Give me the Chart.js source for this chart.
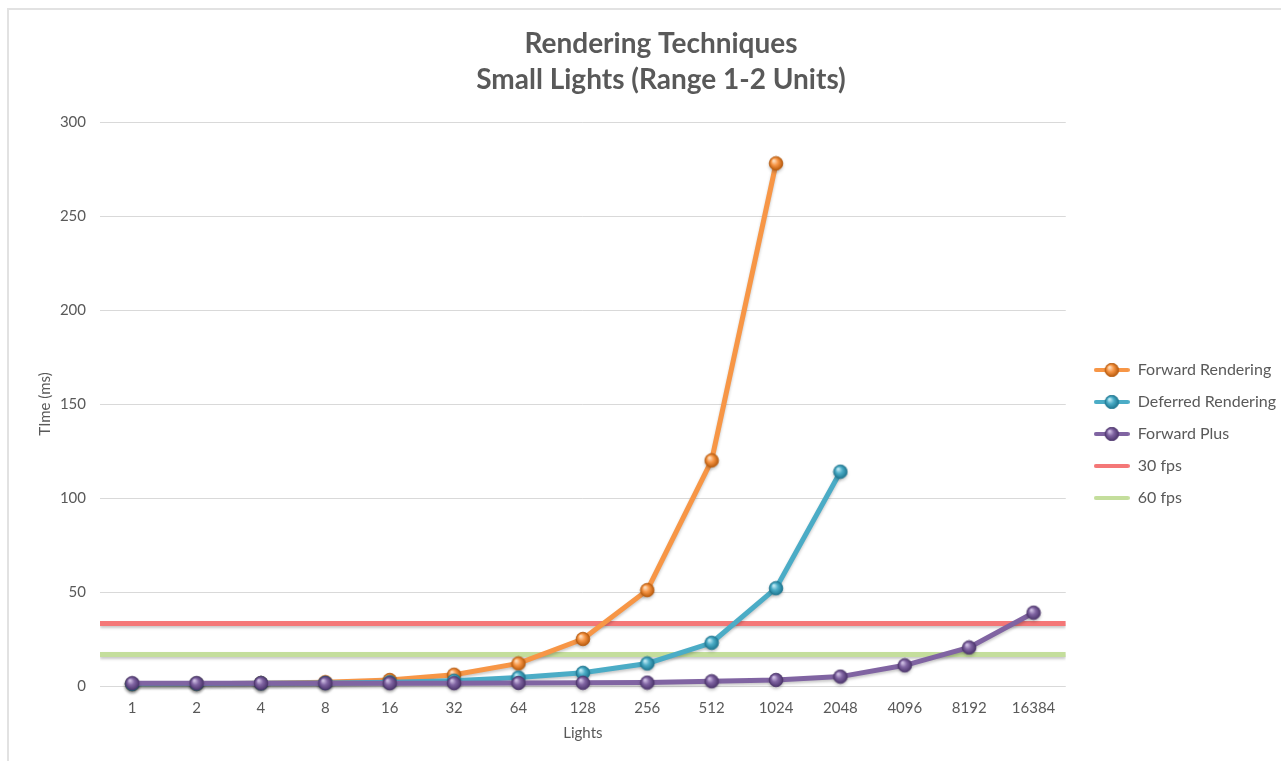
<!DOCTYPE html>
<html>
<head>
<meta charset="utf-8">
<title>Rendering Techniques</title>
<script src="https://cdn.jsdelivr.net/npm/chart.js@4/dist/chart.umd.min.js"></script>
<style>
  html, body { margin: 0; padding: 0; background: #ffffff; }
  #frame {
    position: absolute; left: 7px; top: 8px; width: 1274px; height: 753px;
    border-left: 2px solid #e2e2e2; border-top: 2px solid #e2e2e2;
  }
  #chart { position: absolute; left: 0; top: 0; }
</style>
</head>
<body>
<div id="frame"></div>
<canvas id="chart" width="1281" height="761"></canvas>
<script>
// Number of lights per test run (category axis)
const lightCounts = ['1', '2', '4', '8', '16', '32', '64', '128', '256', '512', '1024', '2048', '4096', '8192', '16384'];

// Frame times in milliseconds per technique (null = not measured)
const forwardRendering  = [1, 1.2, 1.5, 2, 3.2, 6, 12, 25, 51, 120, 278, null, null, null, null];
const deferredRendering = [1, 1.2, 1.4, 1.6, 2, 2.8, 4.5, 7, 12, 23, 52, 114, null, null, null];
const forwardPlus       = [1.5, 1.5, 1.5, 1.5, 1.5, 1.5, 1.6, 1.7, 1.8, 2.5, 3.2, 5, 11, 20.5, 39];

// Frame budget reference lines (ms)
const budget30fps = 33.3;
const budget60fps = 16.7;

// Y axis range
const yMin = 0, yMax = 300, yStep = 50;

const FONT = "Lato, 'Open Sans', 'Liberation Sans', sans-serif";
const TEXT = '#595959';

// Shaded sphere used as the marker of each series
function makeSphere(base, light, dark, r) {
  const size = Math.ceil(r * 2 + 2);
  const c = document.createElement('canvas');
  c.width = size; c.height = size;
  const g = c.getContext('2d');
  const cx = size / 2, cy = size / 2;
  const grad = g.createRadialGradient(cx - r * 0.35, cy - r * 0.4, r * 0.1, cx, cy, r);
  grad.addColorStop(0, light);
  grad.addColorStop(0.45, base);
  grad.addColorStop(1, dark);
  g.beginPath();
  g.arc(cx, cy, r, 0, Math.PI * 2);
  g.fillStyle = grad;
  g.fill();
  g.lineWidth = 0.8;
  g.strokeStyle = dark;
  g.stroke();
  return c;
}

// Legend swatch: a short line, optionally with a sphere in the middle
function makeSwatch(color, sphere) {
  const c = document.createElement('canvas');
  c.width = 36; c.height = 14;
  const g = c.getContext('2d');
  g.strokeStyle = color;
  g.lineWidth = 4;
  g.lineCap = 'round';
  g.beginPath();
  g.moveTo(2, 7); g.lineTo(34, 7);
  g.stroke();
  if (sphere) g.drawImage(sphere, 18 - sphere.width / 2, 7 - sphere.height / 2);
  return c;
}

const orange = '#F79646', teal = '#4BACC6', purple = '#8064A2';
const red = '#F47777', green = '#C4DE9C';

const sphereOrange = makeSphere(orange, '#FDDCBB', '#B85A0C', 6.8);
const sphereTeal   = makeSphere(teal, '#BDE8F3', '#1E7690', 6.8);
const spherePurple = makeSphere(purple, '#CDBDE2', '#4C356C', 6.8);

function seriesDataset(label, data, color, sphere, order) {
  return {
    label, data,
    borderColor: color,
    backgroundColor: color,
    borderWidth: 5,
    tension: 0,
    pointStyle: sphere,
    pointRadius: 6.8,
    pointHoverRadius: 6.8,
    spanGaps: false,
    clip: false,
    order,
    swatch: makeSwatch(color, sphere)
  };
}

function budgetDataset(label, value, color, order) {
  return {
    label,
    data: [{ x: 0, y: value }, { x: 1, y: value }],
    xAxisID: 'xFull',
    borderColor: color,
    backgroundColor: color,
    borderWidth: 5,
    pointRadius: 0,
    pointHoverRadius: 0,
    order,
    swatch: makeSwatch(color, null)
  };
}

// Soft drop shadow under each line
const lineShadow = {
  id: 'lineShadow',
  beforeDatasetDraw(chart) {
    const ctx = chart.ctx;
    ctx.save();
    ctx.shadowColor = 'rgba(0,0,0,0.22)';
    ctx.shadowBlur = 3;
    ctx.shadowOffsetX = 0;
    ctx.shadowOffsetY = 2;
  },
  afterDatasetDraw(chart) {
    chart.ctx.restore();
  }
};

new Chart(document.getElementById('chart'), {
  type: 'line',
  data: {
    labels: lightCounts,
    datasets: [
      seriesDataset('Forward Rendering', forwardRendering, orange, sphereOrange, 3),
      seriesDataset('Deferred Rendering', deferredRendering, teal, sphereTeal, 2),
      seriesDataset('Forward Plus', forwardPlus, purple, spherePurple, 1),
      budgetDataset('30 fps', budget30fps, red, 4),
      budgetDataset('60 fps', budget60fps, green, 5)
    ]
  },
  options: {
    responsive: false,
    animation: false,
    events: [],
    layout: { padding: { left: 36, right: -5, top: 26, bottom: 15 } },
    plugins: {
      title: {
        display: true,
        text: ['Rendering Techniques', 'Small Lights (Range 1-2 Units)'],
        color: TEXT,
        font: { family: FONT, size: 28, weight: 'bold', lineHeight: 36 / 28 },
        padding: { top: 0, bottom: 24 }
      },
      legend: {
        position: 'right',
        align: 'center',
        // empty spacer that pushes the legend entries a little below centre
        title: { display: true, text: ' ', font: { size: 2, lineHeight: 1 }, padding: { top: 94, bottom: 0 } },
        labels: {
          color: TEXT,
          font: { family: FONT, size: 16 },
          usePointStyle: true,
          pointStyleWidth: 36,
          boxHeight: 14,
          padding: 16,
          generateLabels(chart) {
            return chart.data.datasets.map((ds, i) => ({
              text: ds.label,
              pointStyle: ds.swatch,
              fillStyle: ds.borderColor,
              strokeStyle: ds.borderColor,
              lineWidth: 0,
              hidden: false,
              fontColor: TEXT,
              datasetIndex: i
            }));
          }
        }
      },
      tooltip: { enabled: false }
    },
    scales: {
      x: {
        type: 'category',
        offset: true,
        grid: { display: false, drawTicks: false },
        border: { display: false },
        ticks: { color: TEXT, font: { family: FONT, size: 15 }, padding: 13, maxRotation: 0, autoSkip: false },
        title: {
          display: true, text: 'Lights', color: TEXT,
          font: { family: FONT, size: 15 }, padding: { top: 7, bottom: 4 }
        },
        afterFit(scale) { scale.height = 60; }
      },
      xFull: {
        type: 'linear',
        display: false,
        min: 0, max: 1,
        ticks: { display: false },
        grid: { display: false }
      },
      y: {
        min: yMin, max: yMax,
        grid: { color: '#d9d9d9', lineWidth: 1, drawTicks: false },
        border: { display: false },
        ticks: { stepSize: yStep, color: TEXT, font: { family: FONT, size: 15 }, padding: 14 },
        title: {
          display: true, text: 'TIme (ms)', color: TEXT,
          font: { family: FONT, size: 15 }, padding: { top: 0, bottom: 0 }
        },
        afterFit(scale) { scale.width = 64; }
      },
      gap: {
        type: 'linear',
        position: 'right',
        display: true,
        grid: { display: false, drawTicks: false },
        border: { display: false },
        ticks: { display: false },
        afterFit(scale) { scale.width = 12; }
      }
    }
  },
  plugins: [lineShadow]
});
</script>
</body>
</html>
